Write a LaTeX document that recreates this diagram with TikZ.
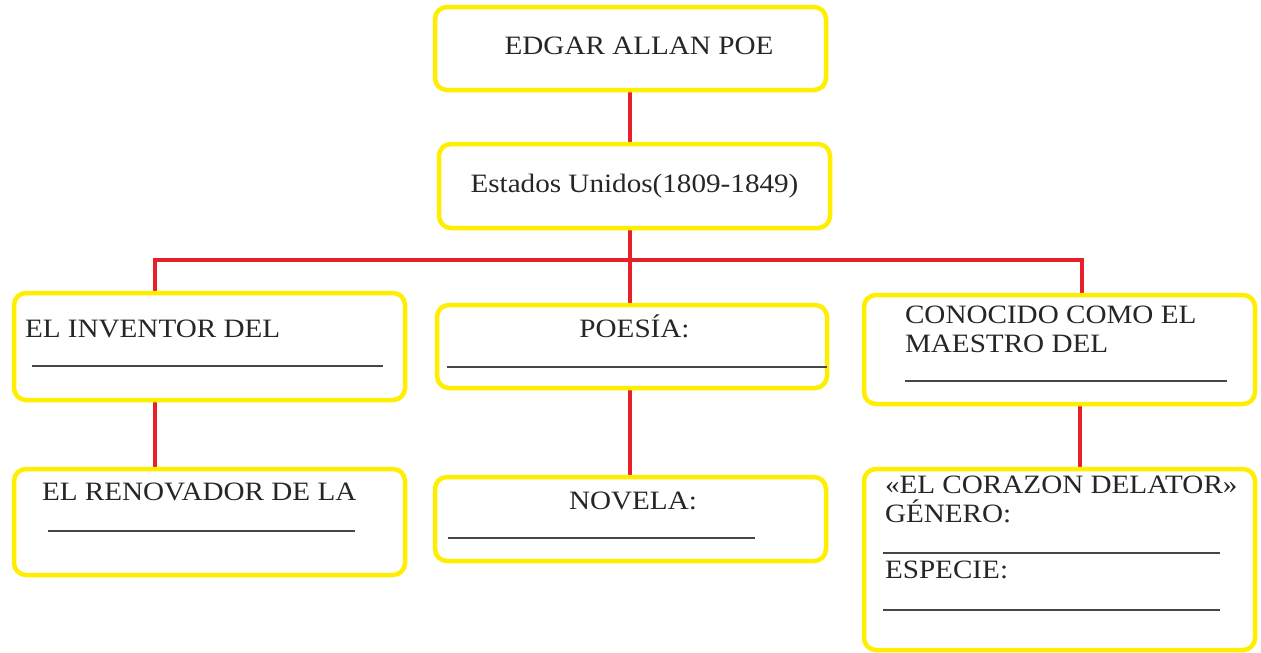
\documentclass[tikz,border=0pt]{standalone}
\usepackage{fontspec}
\setmainfont{Liberation Serif}[FakeStretch=1.1]
\usetikzlibrary{backgrounds}
\definecolor{boxyellow}{RGB}{255,238,0}
\definecolor{linkred}{RGB}{232,32,42}
\definecolor{rulegray}{RGB}{70,70,70}
\tikzset{
  box/.style={draw=boxyellow, line width=4.5pt, rounded corners=12pt, inner sep=0pt, outer sep=0pt},
  link/.style={draw=linkred, line width=4.5pt},
  blank/.style={draw=rulegray, line width=1.4pt},
  txt/.style={inner sep=0pt, outer sep=0pt, font=\fontsize{26.5}{29}\selectfont, text=black!85}
}
\begin{document}
\begin{tikzpicture}[x=1pt,y=-1pt]
\useasboundingbox (0,0) rectangle (1261,653);
% boxes
\node[box, minimum width=391pt, minimum height=83pt] (b1) at (630.5,48.5) {};
\node[box, minimum width=391pt, minimum height=84pt] (b2) at (634.5,186) {};
\node[box, minimum width=391pt, minimum height=107pt] (b3) at (209.5,346.5) {};
\node[box, minimum width=390pt, minimum height=83pt] (b4) at (632,346.5) {};
\node[box, minimum width=391pt, minimum height=109pt] (b5) at (1059.5,349.5) {};
\node[box, minimum width=391pt, minimum height=106pt] (b6) at (209.5,522) {};
\node[box, minimum width=391pt, minimum height=84pt] (b7) at (630.5,519) {};
\node[box, minimum width=391pt, minimum height=181pt] (b8) at (1059.5,559.5) {};
% texts
\node[txt, anchor=base] (t1) at (639,54) {EDGAR ALLAN POE};
\node[txt, anchor=base] (t2) at (634.5,192) {Estados Unidos(1809-1849)};
\node[txt, anchor=base west] (t3) at (25,337) {EL INVENTOR DEL};
\node[txt, anchor=base] (t4) at (634.5,337) {POESÍA:};
\node[txt, anchor=base west] (t5a) at (905,323) {CONOCIDO COMO EL};
\node[txt, anchor=base west] (t5b) at (905,352) {MAESTRO DEL};
\node[txt, anchor=base west] (t6) at (42,500) {EL RENOVADOR DE LA};
\node[txt, anchor=base] (t7) at (633,509) {NOVELA:};
\node[txt, anchor=base west] (t8a) at (885,493) {«EL CORAZON DELATOR»};
\node[txt, anchor=base west] (t8b) at (885,522) {GÉNERO:};
\node[txt, anchor=base west] (t8c) at (885,578) {ESPECIE:};
% blanks to fill
\coordinate (u3a) at (32,366); \coordinate (u3b) at (383,366);
\coordinate (u4a) at (447,367); \coordinate (u4b) at (827,367);
\coordinate (u5a) at (905,381); \coordinate (u5b) at (1227,381);
\coordinate (u6a) at (48,531); \coordinate (u6b) at (355,531);
\coordinate (u7a) at (448,538); \coordinate (u7b) at (755,538);
\coordinate (u8a) at (883,553); \coordinate (u8b) at (1220,553);
\coordinate (u8c) at (883,610); \coordinate (u8d) at (1220,610);
\draw[blank] (u3a) -- (u3b);
\draw[blank] (u4a) -- (u4b);
\draw[blank] (u5a) -- (u5b);
\draw[blank] (u6a) -- (u6b);
\draw[blank] (u7a) -- (u7b);
\draw[blank] (u8a) -- (u8b);
\draw[blank] (u8c) -- (u8d);
% connectors
\coordinate (hub) at (630,260);
\coordinate (hl) at (155,260);
\coordinate (hr) at (1082,260);
\coordinate (c8) at (1080,0);
\begin{pgfonlayer}{background}
\draw[link] (hub |- b1.south) -- (hub |- b2.north);
\draw[link] (hub |- b2.south) -- (hub);
\draw[link, line cap=rect] (hl) -- (hr);
\draw[link] (hl) -- (hl |- b3.north);
\draw[link] (hub) -- (hub |- b4.north);
\draw[link] (hr) -- (hr |- b5.north);
\draw[link] (hl |- b3.south) -- (hl |- b6.north);
\draw[link] (hub |- b4.south) -- (hub |- b7.north);
\draw[link] (c8 |- b5.south) -- (c8 |- b8.north);
\end{pgfonlayer}
\end{tikzpicture}
\end{document}
